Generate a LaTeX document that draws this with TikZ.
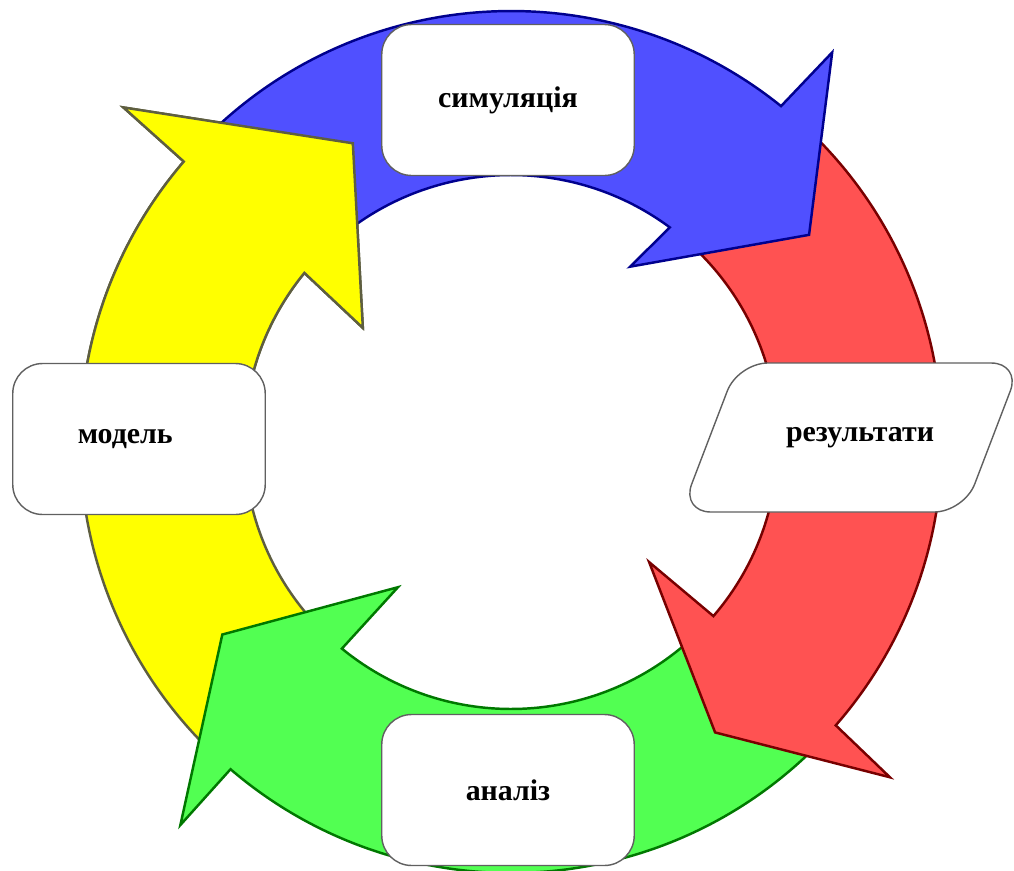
\documentclass[tikz,border=0pt]{standalone}
\usepackage{fontspec}
\setmainfont{Liberation Serif}
\usetikzlibrary{calc,math}
\definecolor{yfill}{HTML}{FFFF00}
\definecolor{yline}{HTML}{5E5E40}
\definecolor{bfill}{HTML}{5050FF}
\definecolor{bline}{HTML}{00008E}
\definecolor{rfill}{HTML}{FF5252}
\definecolor{rline}{HTML}{780000}
\definecolor{gfill}{HTML}{52FF52}
\definecolor{gline}{HTML}{007800}
\definecolor{boxline}{HTML}{606060}
\tikzset{
  stagetext/.style={font=\fontsize{17}{20}\selectfont\bfseries},
  stage/.style={stagetext, draw=boxline, line width=0.8pt, fill=white, rounded corners=17pt,
    minimum width=5.05cm, minimum height=3.02cm},
  ringarrow/.style={line width=1.4pt, line join=miter},
}
\begin{document}
\begin{tikzpicture}[x=0.02cm,y=0.02cm]
\tikzmath{
\Rout=431;
\Rin=267;
}
\useasboundingbox (-511,-428) rectangle (503,442);
% tail / outer notch / outer barb / tip / inner barb / inner notch / colour
\foreach \t/\no/\bo/\rbo/\tp/\rtp/\bi/\rbi/\ni/\col in {
  225/139.4/139.2/512/117.9/338/142.4/187/140.7/y,
  -46/-130.6/-130.8/506/-146.3/347/-127.9/184/-129.3/g,
  46/-41.1/-41.5/506/-54.9/355/-41/183/-40.7/r,
  137/51.2/50.5/505/34.8/363/55.8/212/53.5/b}
\draw[ringarrow, fill=\col fill, draw=\col line] (\t:\Rout)
  arc[start angle=\t, end angle=\no, radius=\Rout] -- (\bo:\rbo) -- (\tp:\rtp)
  -- (\bi:\rbi) -- (\ni:\Rin) arc[start angle=\ni, end angle=\t, radius=\Rin] -- cycle;
% yellow head goes over the blue tail
\begin{scope}
\clip (-520,0) rectangle (520,520);
\draw[ringarrow, fill=yfill, draw=yline] (225:\Rout)
  arc[start angle=225, end angle=139.4, radius=\Rout] -- (139.2:512) -- (117.9:338)
  -- (142.4:187) -- (140.7:\Rin) arc[start angle=140.7, end angle=225, radius=\Rin] -- cycle;
\end{scope}
\node[stage] (sim) at (-3,342) {симуляція};
\node[stage] (model) at (-372,3) {модель\kern0.55cm};
\node[stage] (anal) at (-3,-348) {аналіз};
\coordinate (res) at (349,8);
\draw[stage] ($(res)+(-179,-78)$) -- ($(res)+(-122,71)$) -- ($(res)+(161,71)$)
  -- ($(res)+(104,-78)$) -- cycle;
\node[stagetext] (restext) at ($(res)+(0,-4)$) {результати};
\end{tikzpicture}
\end{document}
